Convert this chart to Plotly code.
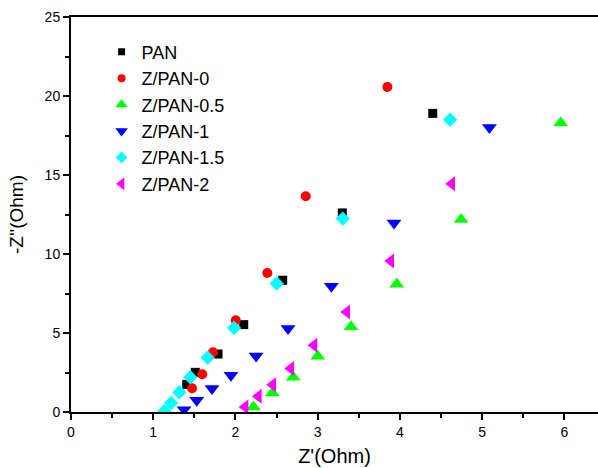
import plotly.graph_objects as go

# Nyquist data: Z' (real) and -Z'' (imaginary), in Ohm
pan_x = [1.408, 1.512, 1.788, 2.101, 2.575, 3.30, 4.40]
pan_y = [1.75, 2.51, 3.67, 5.53, 8.34, 12.6, 18.9]

zpan0_x = [1.472, 1.597, 1.727, 2.004, 2.388, 2.855, 3.848]
zpan0_y = [1.5, 2.39, 3.78, 5.8, 8.8, 13.65, 20.57]

zpan05_x = [2.218, 2.449, 2.704, 3.001, 3.406, 3.962, 4.745, 5.957]
zpan05_y = [0.32, 1.2, 2.2, 3.53, 5.4, 8.08, 12.18, 18.29]

zpan1_x = [1.375, 1.529, 1.715, 1.946, 2.251, 2.640, 3.167, 3.929, 5.089]
zpan1_y = [0.15, 0.74, 1.48, 2.32, 3.55, 5.28, 7.96, 11.96, 18.0]

zpan15_x = [1.135, 1.217, 1.318, 1.451, 1.663, 1.983, 2.502, 3.305, 4.611]
zpan15_y = [0.05, 0.57, 1.25, 2.2, 3.44, 5.32, 8.13, 12.24, 18.5]

zpan2_x = [2.117, 2.279, 2.454, 2.673, 2.956, 3.354, 3.889, 4.631]
zpan2_y = [0.32, 0.99, 1.73, 2.75, 4.22, 6.33, 9.56, 14.45]

x_ticks = [0, 1, 2, 3, 4, 5, 6]
y_ticks = [0, 5, 10, 15, 20, 25]

series = [
    ("PAN", pan_x, pan_y, "square", "#000000", 9, 7),
    ("Z/PAN-0", zpan0_x, zpan0_y, "circle", "#FF0000", 10, 8),
    ("Z/PAN-0.5", zpan05_x, zpan05_y, "triangle-up", "#00FF00", 13, 11),
    ("Z/PAN-1", zpan1_x, zpan1_y, "triangle-down", "#0000FF", 13, 11),
    ("Z/PAN-1.5", zpan15_x, zpan15_y, "diamond", "#00FFFF", 11, 9),
    ("Z/PAN-2", zpan2_x, zpan2_y, "triangle-left", "#FF00FF", 13, 11),
]

fig = go.Figure()
for name, xs, ys, sym, col, size, leg_size in series:
    fig.add_trace(go.Scatter(
        x=xs, y=ys, mode="markers", name=name, showlegend=False,
        marker=dict(symbol=sym, color=col, size=size, line=dict(width=0)),
    ))
    # smaller symbol for the legend entry
    fig.add_trace(go.Scatter(
        x=[None], y=[None], mode="markers", name=name,
        marker=dict(symbol=sym, color=col, size=leg_size, line=dict(width=0)),
    ))

font = "Liberation Sans, Arial, sans-serif"

fig.update_layout(
    width=598, height=468,
    margin=dict(l=71, r=0, t=17, b=56),
    paper_bgcolor="white", plot_bgcolor="white",
    font=dict(family=font, color="black", size=14),
    legend=dict(
        x=0.058, y=0.958, xanchor="left", yanchor="top",
        font=dict(family=font, size=18, color="black"),
        bgcolor="rgba(0,0,0,0)", tracegroupgap=0, itemsizing="trace",
    ),
    xaxis=dict(
        range=[0, 6.41], tickvals=x_ticks, ticktext=[str(v) for v in x_ticks],
        showgrid=False, zeroline=False,
        showline=True, linecolor="black", linewidth=2, mirror=True,
        ticks="outside", ticklen=6, tickwidth=2, tickcolor="black",
        minor=dict(dtick=0.5, ticks="outside", ticklen=4, tickwidth=2, tickcolor="black"),
        tickfont=dict(size=14),
        title=dict(text="Z'(Ohm)", font=dict(size=20), standoff=10),
    ),
    yaxis=dict(
        range=[0, 25], tickvals=y_ticks, ticktext=[str(v) for v in y_ticks],
        showgrid=False, zeroline=False,
        showline=True, linecolor="black", linewidth=2,
        ticks="outside", ticklen=6, tickwidth=2, tickcolor="black",
        minor=dict(dtick=2.5, ticks="outside", ticklen=4, tickwidth=2, tickcolor="black"),
        tickfont=dict(size=14),
        title=dict(text="-Z''(Ohm)", font=dict(size=19), standoff=16),
    ),
)

fig.write_html("out.html")
